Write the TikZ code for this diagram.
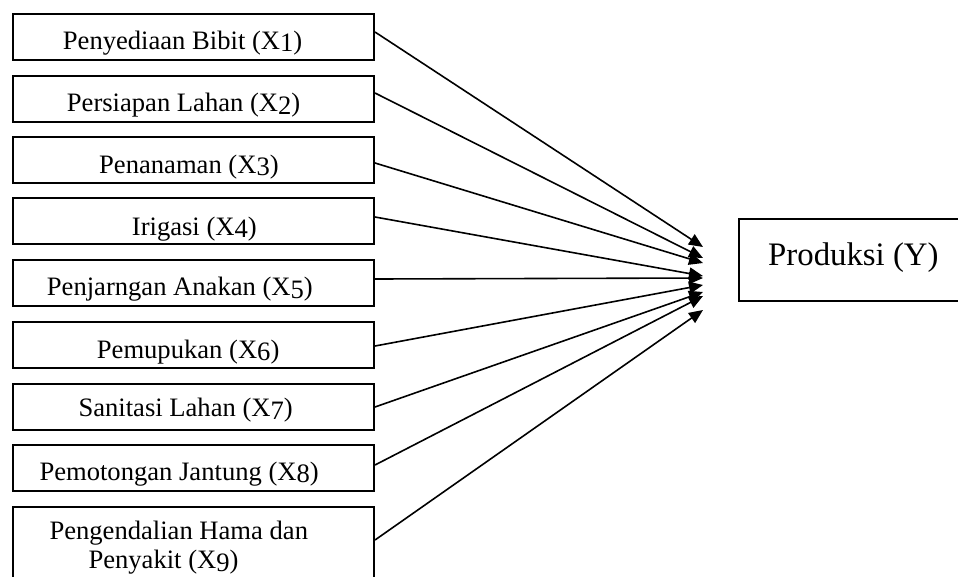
\documentclass[tikz,border=0pt]{standalone}
\usepackage{fontspec}
\setmainfont{Liberation Serif}
\usetikzlibrary{arrows.meta}

% index digit, set a little below the baseline
\newcommand{\idx}[1]{\raisebox{-2.5pt}{#1}}

\tikzset{
  factorbox/.style={draw, line width=2pt, rectangle, inner sep=0pt,
    minimum width=361pt, minimum height=46pt, anchor=north west},
  boxtext/.style={inner sep=0pt, anchor=base west,
    font=\fontsize{26.6pt}{31pt}\selectfont},
  outtext/.style={inner sep=0pt, anchor=base west,
    font=\fontsize{32.8pt}{38pt}\selectfont},
  link/.style={line width=1.6pt, -{Triangle[length=14pt,width=12pt]}}
}

\begin{document}
\begin{tikzpicture}[x=1pt,y=-1pt]
\useasboundingbox (0,0) rectangle (958,576);
\clip (0,0) rectangle (958,576);

% factor boxes
\node[factorbox] (b1) at (12,13)  {};
\node[factorbox] (b2) at (12,75)  {};
\node[factorbox] (b3) at (12,136) {};
\node[factorbox] (b4) at (12,197) {};
\node[factorbox] (b5) at (12,259) {};
\node[factorbox] (b6) at (12,321) {};
\node[factorbox] (b7) at (12,383) {};
\node[factorbox] (b8) at (12,444) {};
\node[factorbox, minimum height=84pt] (b9) at (12,506) {};

% output box (runs past the right edge)
\node[factorbox, minimum width=237pt, minimum height=82pt] (by) at (738,218) {};

% labels
\node[boxtext] (t1) at (62.7,49.3)  {Penyediaan Bibit (X\idx{1})};
\node[boxtext] (t2) at (66.7,111.5) {Persiapan Lahan (X\idx{2})};
\node[boxtext] (t3) at (99,173)     {Penanaman (X\idx{3})};
\node[boxtext] (t4) at (131.7,235)  {Irigasi (X\idx{4})};
\node[boxtext] (t5) at (46.7,295.5) {Penjarngan Anakan (X\idx{5})};
\node[boxtext] (t6) at (96.7,358)   {Pemupukan (X\idx{6})};
\node[boxtext] (t7) at (78.3,416.7) {Sanitasi Lahan (X\idx{7})};
\node[boxtext] (t8) at (39.3,480)   {Pemotongan Jantung (X\idx{8})};
\node[boxtext] (t9a) at (49.3,539.3) {Pengendalian Hama dan};
\node[boxtext] (t9b) at (88.3,568.5) {Penyakit (X\idx{9})};
\node[outtext] (ty) at (768,265) {Produksi (Y)};

% arrow tips in front of the output box
\coordinate (c1) at (703,247);
\coordinate (c2) at (703,258);
\coordinate (c3) at (703,263);
\coordinate (c4) at (703,276);
\coordinate (c5) at (703,278);
\coordinate (c6) at (703,285);
\coordinate (c7) at (703,292);
\coordinate (c8) at (703,296);
\coordinate (c9) at (703,310);

% connectors
\draw[link] ([yshift=5pt]b1.east)  -- (c1);
\draw[link] ([yshift=6pt]b2.east)  -- (c2);
\draw[link] ([yshift=-3pt]b3.east) -- (c3);
\draw[link] ([yshift=4pt]b4.east)  -- (c4);
\draw[link] ([yshift=4pt]b5.east)  -- (c5);
\draw[link] ([yshift=-1pt]b6.east) -- (c6);
\draw[link] (b7.east)              -- (c7);
\draw[link] ([yshift=3pt]b8.east)  -- (c8);
\draw[link] ([yshift=9pt]b9.east)  -- (c9);
\end{tikzpicture}
\end{document}
